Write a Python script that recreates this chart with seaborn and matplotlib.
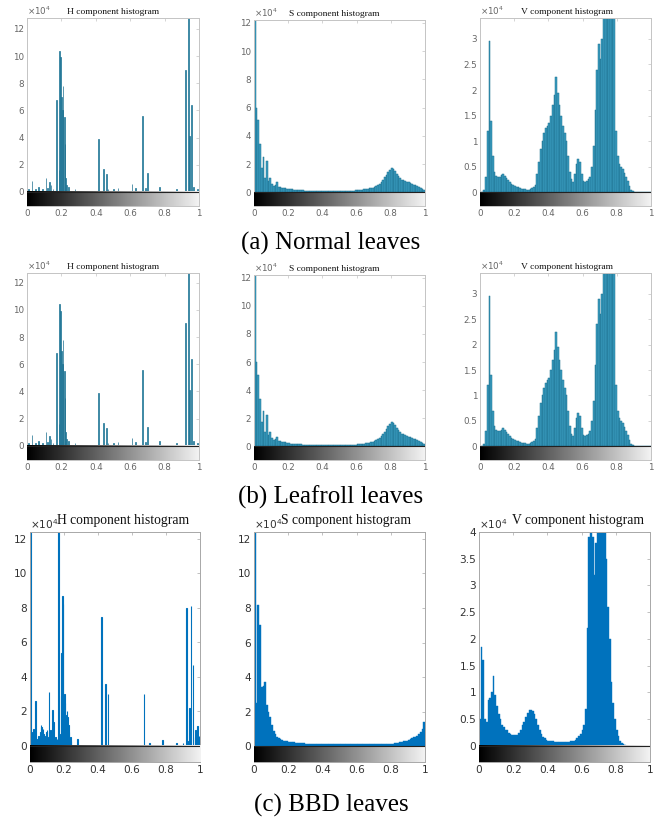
import numpy as np
import pandas as pd
import matplotlib
matplotlib.use("Agg")
import matplotlib.pyplot as plt
import seaborn as sns

sns.set_style("white")
plt.rcParams['font.family'] = ['DejaVu Sans']

# ---------------- data (counts in units of 1e4) ----------------
# H component, Normal / Leafroll leaves (sparse spikes: position, height)
H_norm_pos = [0.01, 0.03, 0.05, 0.07, 0.09, 0.11, 0.12, 0.13, 0.14, 0.15, 0.17, 0.185,
              0.19, 0.195, 0.20, 0.205, 0.21, 0.215, 0.22, 0.225, 0.23, 0.24, 0.28,
              0.415, 0.442, 0.461, 0.47, 0.50, 0.53, 0.61, 0.63, 0.67, 0.69, 0.70,
              0.77, 0.87, 0.92, 0.94, 0.945, 0.955, 0.965, 0.99]
H_norm_cnt = [0.2, 0.8, 0.2, 0.4, 0.2, 1.0, 0.3, 0.7, 0.5, 0.2, 6.8, 1.6,
              10.4, 9.9, 7.0, 6.0, 7.8, 5.5, 3.5, 1.0, 0.5, 0.4, 0.2,
              3.9, 1.7, 1.3, 0.2, 0.2, 0.3, 0.6, 0.3, 5.6, 0.3, 1.4,
              0.4, 0.2, 9.0, 12.8, 4.1, 6.4, 0.4, 0.2]

# S component, Normal / Leafroll leaves (100 bins of width 0.01)
S_norm = [12.3, 6.0, 5.1, 3.4, 1.7, 2.5, 1.0, 2.2, 0.8, 1.0,
          0.6, 0.45, 0.5, 0.7, 0.4, 0.35, 0.3, 0.3, 0.28, 0.25,
          0.22, 0.2, 0.2, 0.18, 0.17, 0.16, 0.15, 0.14, 0.13, 0.12,
          0.12, 0.11, 0.11, 0.1, 0.1, 0.1, 0.1, 0.1, 0.1, 0.1,
          0.1, 0.1, 0.1, 0.1, 0.1, 0.1, 0.1, 0.1, 0.1, 0.1,
          0.1, 0.1, 0.1, 0.1, 0.1, 0.1, 0.11, 0.12, 0.12, 0.13,
          0.14, 0.15, 0.16, 0.18, 0.2, 0.22, 0.24, 0.27, 0.3, 0.33,
          0.38, 0.43, 0.5, 0.6, 0.75, 0.9, 1.05, 1.25, 1.45, 1.6,
          1.7, 1.65, 1.5, 1.3, 1.15, 1.0, 0.9, 0.85, 0.8, 0.75,
          0.7, 0.65, 0.6, 0.55, 0.5, 0.45, 0.4, 0.33, 0.25, 0.15]

# V component, Normal / Leafroll leaves (100 bins of width 0.01)
V_norm = [0, 0, 0.05, 0.3, 1.2, 2.95, 1.4, 0.7, 0.4, 0.32,
          0.3, 0.3, 0.33, 0.35, 0.32, 0.28, 0.24, 0.2, 0.17, 0.15,
          0.13, 0.11, 0.1, 0.08, 0.07, 0.06, 0.06, 0.05, 0.05, 0.06,
          0.08, 0.1, 0.15, 0.35, 0.6, 0.85, 1.0, 1.15, 1.25, 1.3,
          1.35, 1.5, 1.7, 1.9, 2.25, 1.95, 1.7, 1.5, 1.3, 1.15,
          1.0, 0.7, 0.4, 0.25, 0.2, 0.35, 0.55, 0.65, 0.6, 0.35,
          0.22, 0.2, 0.22, 0.25, 0.3, 0.5, 0.9, 1.6, 2.4, 2.9,
          2.6, 3.0, 3.45, 3.45, 3.45, 3.45, 3.45, 3.45, 3.45, 1.2,
          0.7, 0.55, 0.5, 0.45, 0.38, 0.3, 0.22, 0.12, 0.05, 0.02,
          0, 0, 0, 0, 0, 0, 0, 0, 0, 0]

# Leafroll leaves look identical to the Normal ones in the source figure
H_leaf_pos, H_leaf_cnt = H_norm_pos, H_norm_cnt
S_leaf = S_norm
V_leaf = V_norm

# H component, BBD leaves
H_bbd_pos = [0.0, 0.005, 0.01, 0.015, 0.02, 0.028, 0.035, 0.04, 0.045, 0.05, 0.055, 0.06,
             0.065, 0.07, 0.075, 0.08, 0.085, 0.09, 0.095, 0.1, 0.105,
             0.11, 0.115, 0.12, 0.125, 0.13, 0.135, 0.14, 0.145, 0.15, 0.158, 0.167,
             0.175, 0.18, 0.185, 0.19, 0.195,
             0.20, 0.205, 0.21, 0.215, 0.22, 0.225, 0.23, 0.235, 0.24, 0.28, 0.42, 0.443,
             0.46, 0.67, 0.70, 0.78, 0.86, 0.90, 0.918, 0.93, 0.94, 0.947, 0.96,
             0.97, 0.976, 0.986, 0.995]
H_bbd_cnt = [12.5, 0.7, 0.8, 0.3, 1.0, 0.4, 2.6, 0.3, 0.4, 0.6, 0.5, 0.8,
             1.2, 1.1, 1.0, 0.7, 0.6, 0.5, 0.8, 0.9, 0.5,
             3.1, 0.6, 0.9, 0.5, 2.1, 0.4, 1.4, 0.3, 0.5, 0.4, 12.5,
             0.7, 2.9, 5.4, 8.7, 8.2,
             3.0, 2.5, 1.8, 2.0, 1.7, 1.2, 0.8, 0.5, 0.3, 0.4, 7.5, 3.6,
             3.0, 3.0, 0.2, 0.35, 0.15, 0.2, 8.0, 0.3, 2.2, 8.1, 4.7,
             0.5, 0.9, 1.15, 0.6]

# S component, BBD leaves (100 bins)
S_bbd = [12.5, 2.5, 8.2, 7.0, 3.4, 3.5, 3.7, 2.4, 2.0, 1.7,
         1.2, 0.9, 0.7, 0.55, 0.45, 0.4, 0.35, 0.3, 0.3, 0.28,
         0.25, 0.24, 0.23, 0.22, 0.2, 0.2, 0.18, 0.18, 0.17, 0.16,
         0.15, 0.15, 0.14, 0.14, 0.13, 0.13, 0.12, 0.12, 0.12, 0.11,
         0.11, 0.11, 0.1, 0.1, 0.1, 0.1, 0.1, 0.1, 0.1, 0.1,
         0.1, 0.1, 0.1, 0.1, 0.1, 0.1, 0.1, 0.1, 0.1, 0.1,
         0.1, 0.1, 0.1, 0.1, 0.1, 0.1, 0.1, 0.1, 0.1, 0.1,
         0.11, 0.11, 0.12, 0.12, 0.12, 0.13, 0.13, 0.14, 0.14, 0.15,
         0.15, 0.15, 0.17, 0.2, 0.2, 0.22, 0.25, 0.28, 0.3, 0.32,
         0.35, 0.4, 0.45, 0.5, 0.55, 0.6, 0.7, 0.8, 1.0, 1.4]

# V component, BBD leaves (100 bins)
V_bbd = [0.5, 1.85, 1.6, 0.5, 0.45, 0.85, 0.9, 1.0, 1.3, 0.95,
         0.75, 0.6, 0.5, 0.4, 0.35, 0.3, 0.3, 0.25, 0.22, 0.2,
         0.2, 0.2, 0.2, 0.25, 0.3, 0.4, 0.45, 0.55, 0.62, 0.67,
         0.67, 0.65, 0.6, 0.5, 0.4, 0.3, 0.22, 0.17, 0.14, 0.12,
         0.1, 0.1, 0.09, 0.09, 0.08, 0.08, 0.08, 0.08, 0.08, 0.08,
         0.08, 0.08, 0.08, 0.09, 0.1, 0.1, 0.12, 0.15, 0.18, 0.22,
         0.3, 0.4, 0.7, 2.2, 3.9, 4.1, 3.9, 3.2, 3.8, 4.1,
         4.1, 4.1, 4.1, 4.1, 3.5, 2.6, 2.0, 1.2, 0.8, 0.5,
         0.3, 0.18, 0.1, 0.05, 0.03, 0.02, 0, 0, 0, 0,
         0, 0, 0, 0, 0, 0, 0, 0, 0, 0]

titles = ["H component histogram", "S component histogram", "V component histogram"]
captions = ["(a) Normal leaves", "(b) Leafroll leaves", "(c) BBD leaves"]
xtick_vals = [0, 0.2, 0.4, 0.6, 0.8, 1]
xtick_labels = ["0", "0.2", "0.4", "0.6", "0.8", "1"]

# ---------------- layout ----------------
W, Hh = 662, 819
fig = plt.figure(figsize=(W / 100, Hh / 100), dpi=100)


def rect(x0, x1, yt, yb):
    return [x0 / W, 1 - yb / Hh, (x1 - x0) / W, (yb - yt) / Hh]


rows = [
    dict(boxes=[(27, 199, 18, 206), (254, 425, 20, 206), (480, 651, 18, 206)],
         ylims=[(-1.03, 12.8), (-0.97, 12.2), (-0.27, 3.41)],
         yticks=[[0, 2, 4, 6, 8, 10, 12], [0, 2, 4, 6, 8, 10, 12], [0, 0.5, 1, 1.5, 2, 2.5, 3]],
         data=[(H_norm_pos, H_norm_cnt), S_norm, V_norm], style="old", cap_y=243,
         title_x=[0.5, 0.47, 0.51]),
    dict(boxes=[(27, 199, 273, 460), (254, 425, 275, 460), (480, 651, 273, 460)],
         ylims=[(-1.03, 12.7), (-0.97, 12.2), (-0.27, 3.41)],
         yticks=[[0, 2, 4, 6, 8, 10, 12], [0, 2, 4, 6, 8, 10, 12], [0, 0.5, 1, 1.5, 2, 2.5, 3]],
         data=[(H_leaf_pos, H_leaf_cnt), S_leaf, V_leaf], style="old", cap_y=497,
         title_x=[0.5, 0.47, 0.51]),
    dict(boxes=[(30, 200, 532, 762), (254, 425, 532, 762), (479, 650, 532, 762)],
         ylims=[(-0.93, 12.4), (-0.92, 12.4), (-0.3, 4.0)],
         yticks=[[0, 2, 4, 6, 8, 10, 12], [0, 2, 4, 6, 8, 10, 12], [0, 0.5, 1, 1.5, 2, 2.5, 3, 3.5, 4]],
         data=[(H_bbd_pos, H_bbd_cnt), S_bbd, V_bbd], style="new", cap_y=805,
         title_x=[0.545, 0.54, 0.58]),
]

gradient = np.linspace(0, 0.95, 256).reshape(1, -1)
centers100 = [round(0.005 + 0.01 * i, 4) for i in range(100)]

for r, row in enumerate(rows):
    old = row["style"] == "old"
    face = "#3a9cc0" if old else "#0072BD"
    edge = "#1c6f8e" if old else "#0072BD"
    tcol = "#666666" if old else "#333333"
    tfs = 6.3 if old else 7.6
    title_fs = 6.8 if old else 9.8
    spine_col = "#c4c4c4" if old else "#a8a8a8"
    for c in range(3):
        ax = fig.add_axes(rect(*row["boxes"][c]))
        d = row["data"][c]
        if c == 0:
            df = pd.DataFrame({"pos": d[0], "cnt": d[1]})
            sns.histplot(data=df, x="pos", weights="cnt", binwidth=1 / 256,
                         binrange=(0, 1), ax=ax, color=face, edgecolor=edge,
                         linewidth=0.5 if old else 0.8, alpha=1)
        else:
            df = pd.DataFrame({"pos": centers100, "cnt": d})
            sns.histplot(data=df, x="pos", weights="cnt", binwidth=0.01,
                         binrange=(0, 1), ax=ax, color=face, edgecolor=edge,
                         linewidth=0.35 if old else 0.3, alpha=1)
        ylo, yhi = row["ylims"][c]
        ax.imshow(gradient, cmap="gray", vmin=0, vmax=1, aspect="auto",
                  extent=[0, 1, ylo, 0], zorder=3)
        ax.axhline(0, color="#222222", lw=0.8, zorder=4)
        ax.set_xlim(0, 1)
        ax.set_ylim(ylo, yhi)
        ax.set_xticks(xtick_vals)
        ax.set_xticklabels(xtick_labels)
        ax.set_yticks(row["yticks"][c])
        ax.set_yticklabels([f"{v:g}" for v in row["yticks"][c]])
        ax.set_xlabel("")
        ax.set_ylabel("")
        ax.tick_params(axis="both", direction="in", length=2.5, width=0.5,
                       colors=spine_col, labelcolor=tcol, labelsize=tfs,
                       top=True, right=True, pad=2)
        for s in ax.spines.values():
            s.set_color(spine_col)
            s.set_linewidth(0.7)
        ax.text(row["title_x"][c], 1.0 + (2 / 186 if old else 5 / 230), titles[c],
                transform=ax.transAxes, ha="center", va="bottom",
                fontfamily="Liberation Serif", fontsize=title_fs, color="#111111")
        ax.text(0.0, 1.005, r"$\times10^4$", transform=ax.transAxes, ha="left",
                va="bottom", fontsize=tfs, color=tcol)
    fig.text(0.5, 1 - row["cap_y"] / Hh, captions[r], ha="center", va="center",
             fontfamily="Liberation Serif", fontsize=18, color="#000000")

fig.savefig("out.png", dpi=100)
